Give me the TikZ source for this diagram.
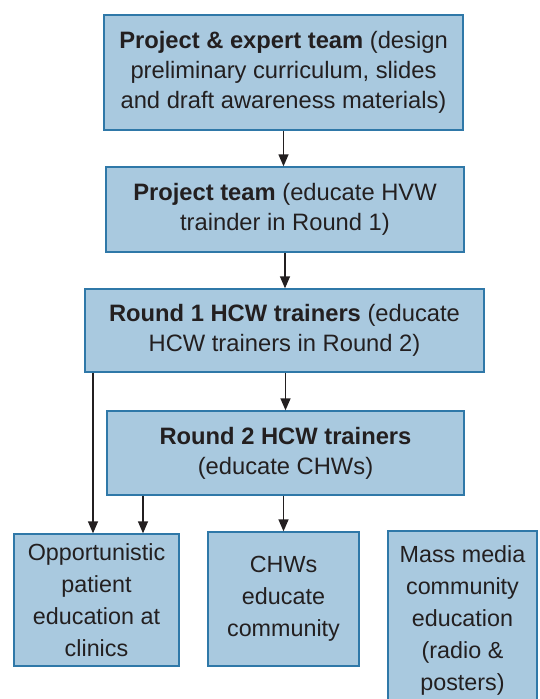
\documentclass[tikz,border=0pt]{standalone}
\usepackage{fontspec}
\setmainfont{Liberation Sans}
\usetikzlibrary{arrows.meta}
\definecolor{boxfill}{HTML}{A9C9DF}
\definecolor{boxline}{HTML}{2F78A8}
\definecolor{ink}{HTML}{231F20}
\tikzset{
  stage/.style={draw=boxline,line width=1pt,fill=boxfill,text=ink,align=center,inner sep=0pt,font=\fontsize{17.8}{22.5}\selectfont},
  outcome/.style={stage,font=\fontsize{17.5}{24}\selectfont},
  arr/.style={-{Triangle[length=9pt,width=7.5pt]},line width=1pt,draw=ink}
}

\begin{document}
\begin{tikzpicture}[x=0.75pt,y=-0.75pt]
  \useasboundingbox (0,0) rectangle (539,699);
  \clip (0,0) rectangle (539,699);
  % training cascade, top to bottom
  \node[stage,minimum width=269.25pt,minimum height=86.25pt] (proj) at (283.5,72.5)
    {\textbf{Project \& expert team} (design\\preliminary curriculum, slides\\and draft awareness materials)};
  \node[stage,minimum width=268.5pt,minimum height=63.75pt] (team) at (285,209.5)
    {\textbf{Project team} (educate HVW\\trainder in Round 1)};
  \node[stage,minimum width=299.25pt,minimum height=62.25pt] (r1) at (284.5,330.5)
    {\textbf{Round 1 HCW trainers} (educate\\HCW trainers in Round 2)};
  \node[stage,minimum width=267.75pt,minimum height=63pt] (r2) at (285.5,453)
    {\textbf{Round 2 HCW trainers}\\(educate CHWs)};
  \node[outcome,minimum width=123.75pt,minimum height=99pt] (clinic) at (96.5,600)
    {Opportunistic\\patient\\education at\\clinics};
  \node[outcome,minimum width=113.25pt,minimum height=100.5pt] (chw) at (283.5,599)
    {CHWs\\educate\\community};
  \node[outcome,minimum width=111.75pt,minimum height=133.5pt] (media) at (462.5,620)
    {Mass media\\community\\education\\(radio \&\\posters)};
  \draw[arr] (proj.south) -- (proj.south |- team.north);
  \draw[arr] (team.south) -- (team.south |- r1.north);
  \draw[arr] (r1.south -| r2.north) -- (r2.north);
  \draw[arr] (r1.south -| 93,0) -- (clinic.north -| 93,0);
  \draw[arr] (r2.south -| 143,0) -- (clinic.north -| 143,0);
  \draw[arr] (r2.south -| chw.north) -- (chw.north);
\end{tikzpicture}
\end{document}
